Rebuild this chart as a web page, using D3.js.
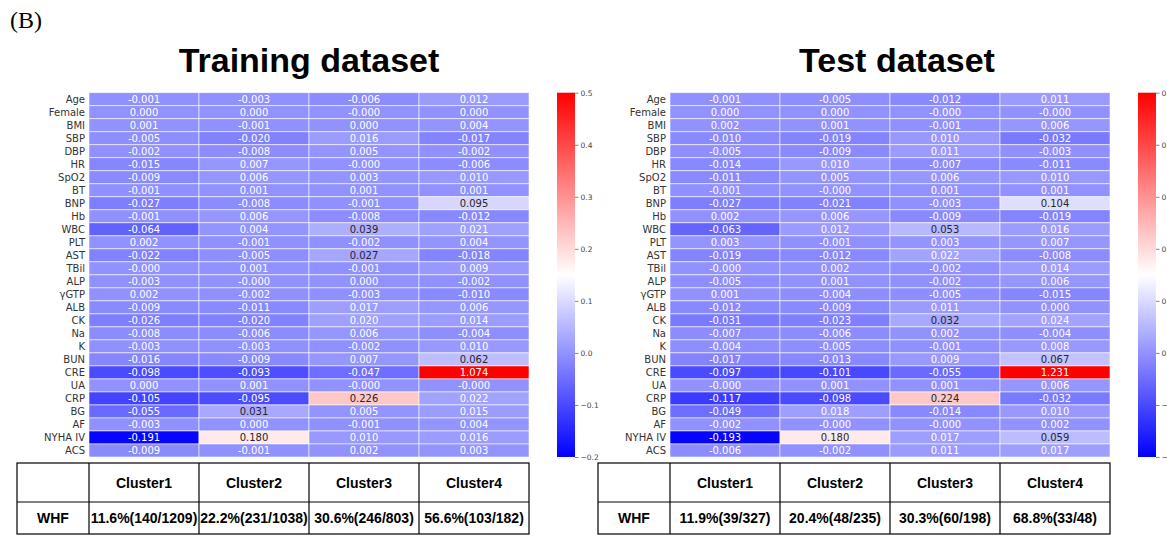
<!DOCTYPE html>
<html>
<head>
<meta charset="utf-8">
<script src="https://cdn.jsdelivr.net/npm/d3@7"></script>
<style>
  body { margin: 0; background: #fff; }
</style>
</head>
<body>
<svg id="fig" width="1167" height="540"></svg>
<script>
var features = ["Age", "Female", "BMI", "SBP", "DBP", "HR", "SpO2", "BT", "BNP", "Hb",
  "WBC", "PLT", "AST", "TBil", "ALP", "γGTP", "ALB", "CK", "Na", "K",
  "BUN", "CRE", "UA", "CRP", "BG", "AF", "NYHA IV", "ACS"];

var clusters = ["Cluster1", "Cluster2", "Cluster3", "Cluster4"];

// -0.000 is kept as a negative zero so the sign shows in the label
var trainValues = [
  [-0.001, -0.003, -0.006, 0.012],
  [0.000, 0.000, -0.000, 0.000],
  [0.001, -0.001, 0.000, 0.004],
  [-0.005, -0.020, 0.016, -0.017],
  [-0.002, -0.008, 0.005, -0.002],
  [-0.015, 0.007, -0.000, -0.006],
  [-0.009, 0.006, 0.003, 0.010],
  [-0.001, 0.001, 0.001, 0.001],
  [-0.027, -0.008, -0.001, 0.095],
  [-0.001, 0.006, -0.008, -0.012],
  [-0.064, 0.004, 0.039, 0.021],
  [0.002, -0.001, -0.002, 0.004],
  [-0.022, -0.005, 0.027, -0.018],
  [-0.000, 0.001, -0.001, 0.009],
  [-0.003, -0.000, 0.000, -0.002],
  [0.002, -0.002, -0.003, -0.010],
  [-0.009, -0.011, 0.017, 0.006],
  [-0.026, -0.020, 0.020, 0.014],
  [-0.008, -0.006, 0.006, -0.004],
  [-0.003, -0.003, -0.002, 0.010],
  [-0.016, -0.009, 0.007, 0.062],
  [-0.098, -0.093, -0.047, 1.074],
  [0.000, 0.001, -0.000, -0.000],
  [-0.105, -0.095, 0.226, 0.022],
  [-0.055, 0.031, 0.005, 0.015],
  [-0.003, 0.000, -0.001, 0.004],
  [-0.191, 0.180, 0.010, 0.016],
  [-0.009, -0.001, 0.002, 0.003]
];

var testValues = [
  [-0.001, -0.005, -0.012, 0.011],
  [0.000, 0.000, -0.000, -0.000],
  [0.002, 0.001, -0.001, 0.006],
  [-0.010, -0.019, 0.010, -0.032],
  [-0.005, -0.009, 0.011, -0.003],
  [-0.014, 0.010, -0.007, -0.011],
  [-0.011, 0.005, 0.006, 0.010],
  [-0.001, -0.000, 0.001, 0.001],
  [-0.027, -0.021, -0.003, 0.104],
  [0.002, 0.006, -0.009, -0.019],
  [-0.063, 0.012, 0.053, 0.016],
  [0.003, -0.001, 0.003, 0.007],
  [-0.019, -0.012, 0.022, -0.008],
  [-0.000, 0.002, -0.002, 0.014],
  [-0.005, 0.001, -0.002, 0.006],
  [0.001, -0.004, -0.005, -0.015],
  [-0.012, -0.009, 0.011, 0.000],
  [-0.031, -0.023, 0.032, 0.024],
  [-0.007, -0.006, 0.002, -0.004],
  [-0.004, -0.005, -0.001, 0.008],
  [-0.017, -0.013, 0.009, 0.067],
  [-0.097, -0.101, -0.055, 1.231],
  [-0.000, 0.001, 0.001, 0.006],
  [-0.117, -0.098, 0.224, -0.032],
  [-0.049, 0.018, -0.014, 0.010],
  [-0.002, -0.000, -0.000, 0.002],
  [-0.193, 0.180, 0.017, 0.059],
  [-0.006, -0.002, 0.011, 0.017]
];

var trainWHF = ["11.6%(140/1209)", "22.2%(231/1038)", "30.6%(246/803)", "56.6%(103/182)"];
var testWHF = ["11.9%(39/327)", "20.4%(48/235)", "30.3%(60/198)", "68.8%(33/48)"];

var colorTicks = [0.5, 0.4, 0.3, 0.2, 0.1, 0.0, -0.1, -0.2];

var svg = d3.select("#fig");
var top0 = 92.7, bottom0 = 457;

// bwr colormap, vmin -0.2 / vmax 0.5
var bwr = d3.scaleLinear()
  .domain([0, 0.5, 1])
  .range(["#0000ff", "#ffffff", "#ff0000"]);
var norm = d3.scaleLinear().domain([-0.2, 0.5]).range([0, 1]).clamp(true);

// matplotlib looks colours up in a 256 entry table
function color(v) {
  var idx = Math.min(255, Math.floor(norm(v) * 256));
  return bwr(idx / 255);
}

function fmt(v) {
  var neg = v < 0 || Object.is(v, -0);
  return (neg ? "-" : "") + Math.abs(v).toFixed(3);
}

// same rule seaborn uses to choose annotation colour
function textColor(c) {
  var rgb = d3.rgb(c);
  var lum = [rgb.r, rgb.g, rgb.b].map(function (v) {
    v /= 255;
    return v <= 0.03928 ? v / 12.92 : Math.pow((v + 0.055) / 1.055, 2.4);
  });
  var L = 0.2126 * lum[0] + 0.7152 * lum[1] + 0.0722 * lum[2];
  return L > 0.408 ? "#262626" : "#ffffff";
}

function heatmap(left, values, gradId) {
  var x = d3.scaleBand().domain(clusters).range([left, left + 440]);
  var y = d3.scaleBand().domain(features).range([top0, bottom0]);
  var g = svg.append("g");

  var cells = [];
  values.forEach(function (row, i) {
    row.forEach(function (v, j) {
      cells.push({f: features[i], c: clusters[j], v: v});
    });
  });

  g.selectAll("rect.cell")
    .data(cells)
    .enter().append("rect")
      .attr("class", "cell")
      .attr("x", function (d) { return x(d.c); })
      .attr("y", function (d) { return y(d.f); })
      .attr("width", x.bandwidth())
      .attr("height", y.bandwidth())
      .attr("fill", function (d) { return color(d.v); })
      .attr("stroke", "#ffffff")
      .attr("stroke-opacity", 0.7)
      .attr("stroke-width", 0.8);

  g.selectAll("text.annot")
    .data(cells)
    .enter().append("text")
      .attr("class", "annot")
      .attr("x", function (d) { return x(d.c) + x.bandwidth() / 2; })
      .attr("y", function (d) { return y(d.f) + y.bandwidth() / 2; })
      .attr("dy", "0.36em")
      .attr("text-anchor", "middle")
      .style("font", "10px 'DejaVu Sans'")
      .attr("fill", function (d) { return textColor(color(d.v)); })
      .text(function (d) { return fmt(d.v); });

  g.selectAll("text.rowlab")
    .data(features)
    .enter().append("text")
      .attr("class", "rowlab")
      .attr("x", left - 4)
      .attr("y", function (d) { return y(d) + y.bandwidth() / 2; })
      .attr("dy", "0.36em")
      .attr("text-anchor", "end")
      .style("font", "10px 'DejaVu Sans'")
      .attr("fill", "#333")
      .text(function (d) { return d; });

  // colorbar
  var cbx = left + 468, cbw = 18;
  var cy = d3.scaleLinear().domain([-0.2, 0.5]).range([bottom0, top0]);
  var grad = svg.append("defs").append("linearGradient")
    .attr("id", gradId)
    .attr("x1", 0).attr("y1", 1).attr("x2", 0).attr("y2", 0);
  d3.range(0, 1.0001, 0.05).forEach(function (t) {
    grad.append("stop")
      .attr("offset", t)
      .attr("stop-color", bwr(t));
  });
  g.append("rect")
    .attr("x", cbx).attr("y", top0)
    .attr("width", cbw).attr("height", bottom0 - top0)
    .attr("fill", "url(#" + gradId + ")");

  var ax = g.append("g")
    .attr("transform", "translate(" + (cbx + cbw) + ",0)")
    .call(d3.axisRight(cy).tickValues(colorTicks).tickSize(3.5).tickPadding(2)
      .tickFormat(d3.format(".1f")));
  ax.select(".domain").remove();
  ax.selectAll("line").attr("stroke", "#555").attr("stroke-width", 0.7);
  ax.selectAll("text").attr("fill", "#444").style("font", "7.5px 'DejaVu Sans'");

  return x;
}

function whfTable(labelLeft, x, vals) {
  var g = svg.append("g");
  var t0 = 463, t1 = 502, t2 = 534;
  var right = x.range()[1];
  var cols = clusters.map(function (c) { return x(c); });

  g.append("rect")
    .attr("x", labelLeft).attr("y", t0)
    .attr("width", right - labelLeft).attr("height", t2 - t0)
    .attr("fill", "none").attr("stroke", "#000").attr("stroke-width", 1.2);
  g.append("line")
    .attr("x1", labelLeft).attr("x2", right)
    .attr("y1", t1).attr("y2", t1)
    .attr("stroke", "#000").attr("stroke-width", 1.2);
  g.selectAll("line.col")
    .data(cols)
    .enter().append("line")
      .attr("class", "col")
      .attr("x1", function (d) { return d; }).attr("x2", function (d) { return d; })
      .attr("y1", t0).attr("y2", t2)
      .attr("stroke", "#000").attr("stroke-width", 1.2);

  var cx = function (c) { return x(c) + x.bandwidth() / 2; };
  g.selectAll("text.head")
    .data(clusters)
    .enter().append("text")
      .attr("x", cx)
      .attr("y", (t0 + t1) / 2).attr("dy", "0.36em")
      .attr("text-anchor", "middle")
      .style("font", "bold 14px 'Liberation Sans', Arial, sans-serif")
      .text(function (d) { return d; });
  g.selectAll("text.val")
    .data(vals)
    .enter().append("text")
      .attr("x", function (d, i) { return cx(clusters[i]); })
      .attr("y", (t1 + t2) / 2).attr("dy", "0.36em")
      .attr("text-anchor", "middle")
      .style("font", "bold 14px 'Liberation Sans', Arial, sans-serif")
      .text(function (d) { return d; });
  g.append("text")
    .attr("x", (labelLeft + x.range()[0]) / 2)
    .attr("y", (t1 + t2) / 2).attr("dy", "0.36em")
    .attr("text-anchor", "middle")
    .style("font", "bold 14px 'Liberation Sans', Arial, sans-serif")
    .text("WHF");
}

svg.append("text")
  .attr("x", 10).attr("y", 28)
  .style("font", "24px 'Liberation Serif', 'Times New Roman', serif")
  .text("(B)");

svg.append("text")
  .attr("x", 309).attr("y", 72)
  .attr("text-anchor", "middle")
  .style("font", "bold 34px 'Liberation Sans', Arial, sans-serif")
  .text("Training dataset");

svg.append("text")
  .attr("x", 897).attr("y", 72)
  .attr("text-anchor", "middle")
  .style("font", "bold 34px 'Liberation Sans', Arial, sans-serif")
  .text("Test dataset");

var xTrain = heatmap(89, trainValues, "gradTrain");
var xTest = heatmap(670, testValues, "gradTest");

whfTable(17, xTrain, trainWHF);
whfTable(598, xTest, testWHF);
</script>
</body>
</html>
